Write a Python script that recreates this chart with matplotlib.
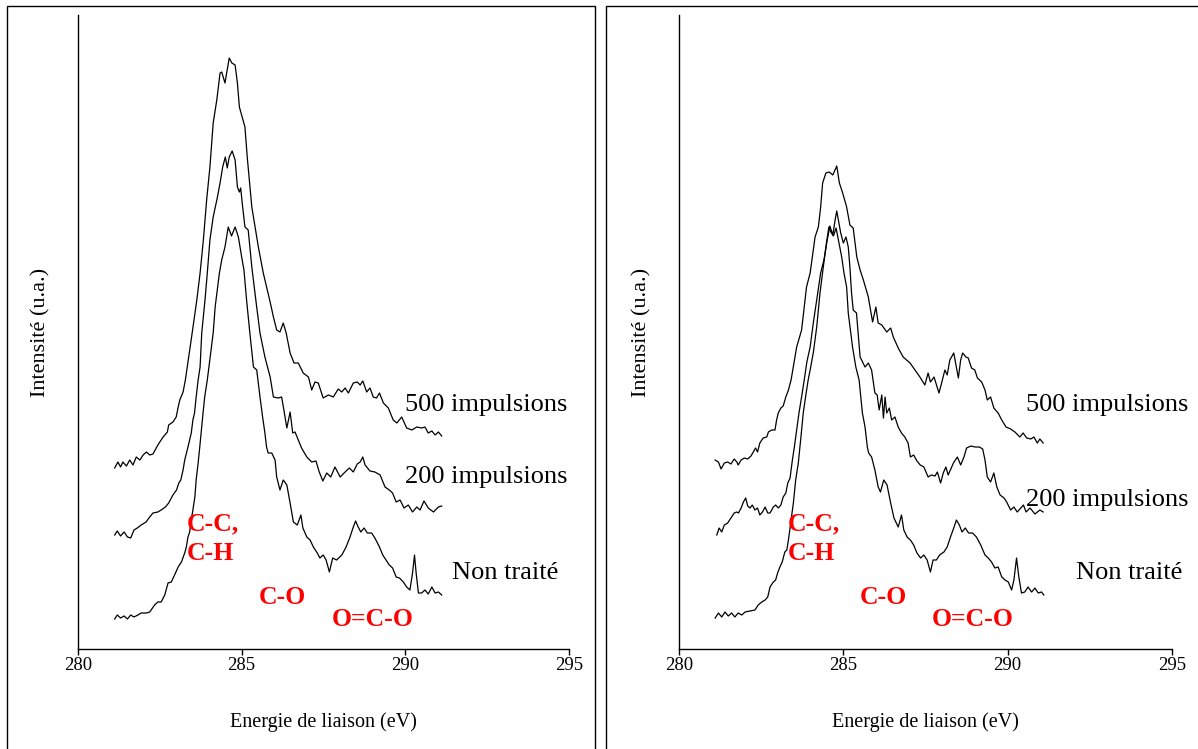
import matplotlib
matplotlib.use("Agg")
import matplotlib.pyplot as plt
from matplotlib.patches import Rectangle

plt.rcParams['font.family'] = ['Liberation Serif', 'DejaVu Serif']

# ---- data (binding energy in eV, intensity in arbitrary units) ----
left_e_500 = [281.12, 281.22, 281.30, 281.37, 281.48, 281.58, 281.68, 281.78, 281.89, 281.99,
              282.09, 282.19, 282.29, 282.44, 282.60, 282.73, 282.77, 282.90, 283.00, 283.06,
              283.11, 283.21, 283.28, 283.47, 283.63, 283.73, 283.83, 283.93, 284.03, 284.13,
              284.24, 284.34, 284.39, 284.49, 284.62, 284.70, 284.80, 284.87, 284.93, 285.10,
              285.17, 285.31, 285.51, 285.66, 285.87, 285.97, 286.07, 286.17, 286.27, 286.36,
              286.48, 286.60, 286.73, 286.88, 287.04, 287.14, 287.24, 287.34, 287.49, 287.65,
              287.80, 287.95, 288.06, 288.16, 288.26, 288.41, 288.53, 288.62, 288.70, 288.82,
              288.92, 289.02, 289.12, 289.21, 289.33, 289.48, 289.63, 289.74, 289.89, 290.04,
              290.20, 290.35, 290.50, 290.60, 290.70, 290.81, 290.91, 291.01, 291.11]
left_i_500 = [184, 190, 185, 190, 186, 192, 187, 195, 192, 197,
              200, 197, 198, 207, 215, 220, 227, 230, 235, 245,
              252, 260, 272, 315, 352, 379, 412, 452, 485, 529,
              552, 579, 580, 569, 594, 589, 587, 569, 545, 525,
              495, 445, 405, 379, 350, 335, 322, 320, 329, 319,
              299, 289, 289, 279, 275, 262, 270, 269, 254, 257,
              255, 263, 260, 264, 259, 269, 270, 267, 271, 260,
              264, 255, 254, 259, 249, 244, 232, 229, 235, 224,
              222, 225, 224, 225, 219, 221, 217, 220, 216]

left_e_200 = [281.12, 281.20, 281.30, 281.41, 281.51, 281.61, 281.71, 281.81, 281.93, 282.08,
              282.19, 282.29, 282.44, 282.54, 282.67, 282.77, 282.90, 283.01, 283.08, 283.14,
              283.21, 283.26, 283.36, 283.46, 283.51, 283.56, 283.61, 283.67, 283.73, 283.78,
              283.88, 283.95, 284.03, 284.13, 284.26, 284.34, 284.42, 284.50, 284.56, 284.62,
              284.71, 284.80, 284.87, 284.93, 284.97, 285.03, 285.10, 285.20, 285.31, 285.44,
              285.56, 285.71, 285.87, 285.97, 286.12, 286.22, 286.29, 286.38, 286.48, 286.56,
              286.63, 286.73, 286.83, 286.99, 287.14, 287.27, 287.37, 287.48, 287.60, 287.72,
              287.85, 288.01, 288.16, 288.29, 288.41, 288.53, 288.62, 288.70, 288.77, 288.92,
              289.07, 289.23, 289.38, 289.51, 289.61, 289.72, 289.84, 289.96, 290.09, 290.22,
              290.35, 290.45, 290.57, 290.70, 290.86, 291.01, 291.11]
left_i_200 = [117, 121, 116, 120, 115, 114, 122, 124, 127, 130,
              135, 139, 140, 142, 145, 149, 157, 162, 169, 172,
              182, 192, 205, 219, 232, 239, 255, 272, 285, 319,
              352, 379, 412, 435, 455, 469, 485, 495, 484, 495,
              501, 492, 465, 460, 464, 445, 425, 422, 385, 350,
              319, 295, 275, 255, 254, 255, 242, 224, 240, 219,
              220, 212, 204, 195, 190, 191, 180, 171, 179, 175,
              185, 175, 180, 184, 180, 188, 190, 195, 187, 181,
              180, 177, 165, 162, 159, 150, 152, 144, 147, 140,
              145, 142, 151, 144, 140, 145, 146]

left_e_nt = [281.12, 281.20, 281.30, 281.41, 281.51, 281.61, 281.71, 281.83, 281.93, 282.09,
             282.19, 282.34, 282.44, 282.54, 282.65, 282.75, 282.85, 282.95, 283.06, 283.16,
             283.26, 283.31, 283.36, 283.41, 283.46, 283.51, 283.57, 283.61, 283.67, 283.72,
             283.77, 283.82, 283.87, 283.95, 284.13, 284.19, 284.32, 284.39, 284.49, 284.59,
             284.69, 284.80, 284.90, 285.00, 285.07, 285.15, 285.25, 285.36, 285.46, 285.56,
             285.64, 285.71, 285.76, 285.81, 285.92, 286.02, 286.07, 286.17, 286.27, 286.38,
             286.48, 286.58, 286.70, 286.81, 286.87, 286.99, 287.09, 287.19, 287.31, 287.39,
             287.49, 287.58, 287.68, 287.78, 287.90, 288.06, 288.19, 288.31, 288.41, 288.48,
             288.56, 288.64, 288.74, 288.84, 288.97, 289.07, 289.21, 289.31, 289.41, 289.51,
             289.61, 289.72, 289.82, 289.94, 290.04, 290.14, 290.22, 290.28, 290.33, 290.40,
             290.50, 290.60, 290.70, 290.81, 290.91, 291.01, 291.11]
left_i_nt = [33, 37, 34, 36, 33, 37, 35, 37, 39, 39,
             40, 47, 50, 50, 57, 69, 70, 77, 85, 90,
             99, 105, 115, 120, 132, 142, 155, 172, 189, 205,
             222, 239, 255, 272, 319, 345, 379, 392, 405, 425,
             416, 425, 415, 395, 382, 352, 319, 285, 282, 255,
             235, 219, 205, 199, 199, 192, 175, 162, 172, 167,
             149, 130, 127, 137, 124, 115, 112, 105, 99, 94,
             97, 92, 80, 94, 92, 97, 105, 115, 125, 131,
             125, 120, 124, 119, 119, 114, 105, 97, 92, 87,
             84, 75, 74, 70, 65, 62, 79, 97, 79, 59,
             59, 62, 58, 65, 59, 60, 57]

right_e_500 = [281.10, 281.20, 281.28, 281.38, 281.48, 281.58, 281.68, 281.76, 281.80, 281.89,
               281.99, 282.09, 282.19, 282.26, 282.33, 282.39, 282.46, 282.56, 282.67, 282.72,
               282.82, 282.92, 282.97, 283.02, 283.10, 283.17, 283.25, 283.33, 283.41, 283.58,
               283.73, 283.88, 283.99, 284.14, 284.24, 284.31, 284.37, 284.47, 284.57, 284.68,
               284.80, 284.88, 284.98, 285.10, 285.20, 285.30, 285.41, 285.51, 285.61, 285.76,
               285.89, 285.99, 286.06, 286.17, 286.32, 286.44, 286.52, 286.67, 286.82, 287.03,
               287.18, 287.33, 287.48, 287.58, 287.65, 287.76, 287.91, 287.99, 288.09, 288.16,
               288.24, 288.36, 288.50, 288.57, 288.63, 288.73, 288.80, 288.90, 289.00, 289.08,
               289.21, 289.31, 289.38, 289.48, 289.58, 289.71, 289.82, 289.95, 290.09, 290.22,
               290.37, 290.47, 290.58, 290.70, 290.80, 290.90, 290.98, 291.08]
right_i_500 = [192, 190, 183, 189, 190, 188, 193, 190, 187, 192,
               194, 193, 196, 200, 204, 200, 209, 214, 215, 220,
               222, 222, 232, 239, 244, 246, 255, 262, 272, 305,
               322, 365, 379, 415, 425, 445, 469, 479, 480, 477,
               486, 469, 459, 445, 427, 424, 395, 382, 372, 355,
               330, 345, 329, 327, 320, 324, 315, 304, 295, 289,
               282, 275, 267, 279, 270, 275, 259, 269, 282, 277,
               292, 299, 274, 292, 299, 295, 294, 284, 282, 274,
               270, 262, 252, 255, 244, 239, 232, 225, 223, 220,
               215, 219, 214, 213, 215, 209, 213, 209]

right_e_200 = [281.15, 281.22, 281.30, 281.38, 281.48, 281.58, 281.68, 281.76, 281.81, 281.89,
               281.96, 282.03, 282.09, 282.16, 282.23, 282.31, 282.39, 282.46, 282.54, 282.62,
               282.70, 282.77, 282.87, 282.94, 283.02, 283.10, 283.17, 283.25, 283.31, 283.38,
               283.41, 283.45, 283.51, 283.58, 283.65, 283.73, 283.81, 283.89, 283.99, 284.09,
               284.19, 284.31, 284.41, 284.51, 284.59, 284.68, 284.75, 284.80, 284.86, 284.92,
               285.00, 285.08, 285.15, 285.20, 285.25, 285.30, 285.40, 285.51, 285.66, 285.76,
               285.86, 285.96, 286.03, 286.09, 286.17, 286.22, 286.27, 286.32, 286.40, 286.47,
               286.57, 286.67, 286.77, 286.87, 286.97, 287.04, 287.14, 287.24, 287.34, 287.45,
               287.58, 287.68, 287.79, 287.86, 287.96, 288.04, 288.12, 288.19, 288.35, 288.47,
               288.57, 288.67, 288.75, 288.88, 289.01, 289.14, 289.24, 289.31, 289.38, 289.48,
               289.58, 289.67, 289.77, 289.89, 289.97, 290.09, 290.19, 290.29, 290.40, 290.48,
               290.56, 290.68, 290.83, 290.98, 291.08]
right_i_200 = [117, 124, 120, 127, 129, 134, 139, 140, 139, 144,
               150, 154, 146, 144, 147, 142, 144, 137, 140, 145,
               139, 139, 145, 147, 144, 147, 155, 159, 169, 174,
               182, 192, 205, 222, 239, 255, 272, 290, 305, 330,
               352, 379, 392, 412, 426, 417, 432, 441, 430, 419,
               409, 415, 405, 385, 359, 342, 339, 295, 285, 289,
               282, 259, 257, 242, 257, 234, 255, 239, 244, 232,
               235, 225, 219, 215, 209, 195, 197, 191, 187, 185,
               175, 177, 176, 180, 169, 179, 185, 177, 189, 195,
               187, 195, 204, 206, 205, 205, 203, 192, 175, 170,
               179, 165, 157, 154, 150, 142, 145, 140, 144, 147,
               140, 144, 138, 142, 140]

right_e_nt = [281.10, 281.20, 281.30, 281.40, 281.50, 281.60, 281.70, 281.80, 281.91, 282.01,
              282.16, 282.31, 282.41, 282.52, 282.62, 282.70, 282.77, 282.87, 282.94, 283.00,
              283.07, 283.14, 283.22, 283.28, 283.33, 283.41, 283.48, 283.55, 283.63, 283.71,
              283.78, 283.85, 283.93, 283.99, 284.09, 284.19, 284.29, 284.39, 284.49, 284.56,
              284.62, 284.70, 284.78, 284.85, 284.95, 285.02, 285.10, 285.15, 285.28, 285.38,
              285.48, 285.58, 285.66, 285.73, 285.77, 285.86, 285.96, 286.06, 286.13, 286.23,
              286.33, 286.44, 286.54, 286.67, 286.77, 286.84, 286.94, 287.04, 287.14, 287.24,
              287.35, 287.45, 287.55, 287.65, 287.73, 287.83, 287.93, 288.06, 288.16, 288.26,
              288.37, 288.44, 288.53, 288.61, 288.71, 288.81, 288.93, 289.05, 289.18, 289.31,
              289.41, 289.51, 289.61, 289.71, 289.82, 289.92, 290.02, 290.12, 290.19, 290.27,
              290.34, 290.42, 290.52, 290.62, 290.73, 290.83, 290.93, 291.03, 291.10]
right_i_nt = [34, 39, 35, 40, 36, 39, 35, 39, 37, 40,
              41, 42, 47, 50, 52, 55, 65, 70, 72, 79,
              85, 90, 100, 102, 112, 132, 149, 172, 189, 215,
              239, 255, 272, 282, 300, 325, 359, 385, 410, 425,
              420, 416, 424, 412, 395, 379, 365, 339, 305, 285,
              272, 239, 225, 205, 199, 195, 182, 165, 160, 172,
              167, 149, 134, 125, 137, 122, 115, 112, 107, 99,
              94, 97, 92, 80, 92, 92, 97, 100, 105, 115,
              125, 132, 127, 120, 124, 119, 119, 115, 107, 97,
              94, 90, 84, 85, 75, 72, 70, 62, 72, 94,
              75, 59, 60, 65, 60, 64, 59, 60, 57]

xticks = [280, 285, 290, 295]
series_labels = ["500 impulsions", "200 impulsions", "Non traité"]
bond_labels = ["C-C,", "C-H", "C-O", "O=C-O"]

W, H = 1198, 749
fig = plt.figure(figsize=(W / 100, H / 100), dpi=100)

# frames around each panel
for x0, x1 in [(7, 595), (606, 1205)]:
    fig.patches.append(Rectangle((x0 / W, -0.02), (x1 - x0) / W, (H - 6) / H + 0.02,
                                 transform=fig.transFigure, fill=False,
                                 edgecolor='black', linewidth=1.0))

panels = [
    (78, 491, (left_e_500, left_i_500), (left_e_200, left_i_200), (left_e_nt, left_i_nt),
     [(289.99, 247), (289.99, 175), (291.43, 79)],
     [(283.33, 128), (283.33, 98), (285.53, 55), (287.76, 32)]),
    (679, 493, (right_e_500, right_i_500), (right_e_200, right_i_200), (right_e_nt, right_i_nt),
     [(290.56, 247), (290.56, 152), (292.08, 79)],
     [(283.32, 128), (283.32, 98), (285.51, 55), (287.70, 32)]),
]

for left_px, width_px, s500, s200, snt, lab_pos, bond_pos in panels:
    ax = fig.add_axes([left_px / W, (H - 649) / H, width_px / W, 634 / H])
    for e, i in (s500, s200, snt):
        ax.plot(e, i, color='black', linewidth=0.9)
    ax.set_xlim(280, 295)
    ax.set_ylim(3, 637)
    ax.set_xticks(xticks)
    ax.set_yticks([])
    ax.tick_params(axis='x', direction='out', length=4, width=1, labelsize=13.5, pad=2)
    for side in ('top', 'right'):
        ax.spines[side].set_visible(False)
    for side in ('left', 'bottom'):
        ax.spines[side].set_linewidth(1)
    ax.set_xlabel("Energie de liaison (eV)", fontsize=14.5, labelpad=27)
    ax.set_ylabel("Intensité (u.a.)", fontsize=16, labelpad=20)

    for text, (x, y) in zip(series_labels, lab_pos):
        ax.text(x, y, text, fontsize=19, ha='left', va='center', clip_on=False)
    for text, (x, y) in zip(bond_labels, bond_pos):
        ax.text(x, y, text, fontsize=18.5, fontweight='bold', color='red',
                ha='left', va='center')

fig.savefig("out.png", dpi=100)
